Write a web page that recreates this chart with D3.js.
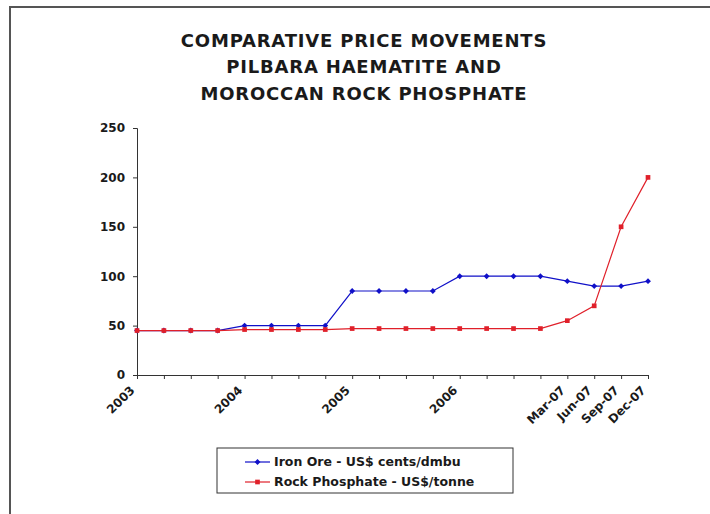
<!DOCTYPE html>
<head>
  <meta charset="utf-8">
  <title>Comparative price movements</title>
  <style>
      body { margin: 0; background: #fff; }
      text { font-family: "DejaVu Sans", Verdana, sans-serif; font-weight: bold; fill: #1a1a1a; }
  </style>
  <script src="https://d3js.org/d3.v7.js"></script>
</head>
<body>
<div id="chart"></div>
<script>
    // quarterly categories, only some carry a label
    const categories = ["2003", "", "", "", "2004", "", "", "", "2005", "", "", "",
        "2006", "", "", "", "Mar-07", "Jun-07", "Sep-07", "Dec-07"];
    const ironOre = [45, 45, 45, 45, 50, 50, 50, 50, 85, 85, 85, 85,
        100, 100, 100, 100, 95, 90, 90, 95];
    const rockPhosphate = [45, 45, 45, 45, 46, 46, 46, 46, 47, 47, 47, 47,
        47, 47, 47, 47, 55, 70, 150, 200];
    const yTicks = [0, 50, 100, 150, 200, 250];
    const titleLines = ["COMPARATIVE PRICE MOVEMENTS", "PILBARA HAEMATITE AND", "MOROCCAN ROCK PHOSPHATE"];
    const seriesNames = ["Iron Ore - US$ cents/dmbu", "Rock Phosphate - US$/tonne"];

    const W = 710, H = 514;
    const svg = d3.select("#chart").append("svg")
        .attr("width", W).attr("height", H);

    // frame (top and left edges only visible)
    svg.append("line").attr("x1", 9).attr("x2", W).attr("y1", 7).attr("y2", 7)
        .attr("stroke", "#555").attr("stroke-width", 2);
    svg.append("line").attr("x1", 10).attr("x2", 10).attr("y1", 6).attr("y2", H)
        .attr("stroke", "#555").attr("stroke-width", 2);

    // title
    svg.append("g").selectAll("text")
        .data(titleLines)
        .join("text")
        .attr("x", 364)
        .attr("y", (d, i) => 47 + i * 26.3)
        .attr("text-anchor", "middle")
        .style("font-size", "18px")
        .style("letter-spacing", "0.8px")
        .text(d => d);

    const plotL = 137, plotR = 648, plotT = 128, plotB = 375;

    const x = d3.scalePoint()
        .domain(d3.range(categories.length))
        .range([plotL, plotR]);

    const y = d3.scaleLinear()
        .domain([0, 250])
        .range([plotB, plotT]);

    // y axis
    const yAxis = svg.append("g")
        .attr("transform", `translate(${plotL},0)`)
        .call(d3.axisLeft(y).tickValues(yTicks).tickSize(4).tickPadding(8));
    yAxis.selectAll("text").style("font-size", "12px");
    yAxis.selectAll("path, line").attr("stroke", "#333");

    // x axis
    const xAxis = svg.append("g")
        .attr("transform", `translate(0,${plotB})`)
        .call(d3.axisBottom(x).tickSize(4).tickSizeOuter(0).tickFormat(i => categories[i]));
    xAxis.selectAll("path, line").attr("stroke", "#333");
    xAxis.selectAll("text")
        .style("font-size", "12px")
        .attr("text-anchor", "end")
        .attr("dy", "0.35em")
        .attr("transform", "translate(-5,13) rotate(-45)")
        .attr("x", 0).attr("y", 0);

    const series = [
        {name: seriesNames[0], values: ironOre, color: "#1010c8", symbol: d3.symbolDiamond2, size: 22},
        {name: seriesNames[1], values: rockPhosphate, color: "#e0202a", symbol: d3.symbolSquare, size: 22}
    ];

    const line = d3.line()
        .x((d, i) => x(i))
        .y(d => y(d));

    series.forEach(s => {
        svg.append("path")
            .datum(s.values)
            .attr("fill", "none")
            .attr("stroke", s.color)
            .attr("stroke-width", 1.2)
            .attr("d", line);
        svg.append("g").selectAll("path")
            .data(s.values)
            .join("path")
            .attr("transform", (d, i) => `translate(${x(i)},${y(d)})`)
            .attr("d", d3.symbol().type(s.symbol).size(s.size))
            .attr("fill", s.color);
    });

    // legend
    const legend = svg.append("g").attr("transform", "translate(217,448)");
    legend.append("rect")
        .attr("width", 296).attr("height", 45)
        .attr("fill", "#fff").attr("stroke", "#333").attr("stroke-width", 1);
    series.forEach((s, i) => {
        const g = legend.append("g").attr("transform", `translate(0,${14 + i * 20})`);
        g.append("line").attr("x1", 28).attr("x2", 53)
            .attr("stroke", s.color).attr("stroke-width", 1.2);
        g.append("path").attr("transform", "translate(40.5,0)")
            .attr("d", d3.symbol().type(s.symbol).size(s.size))
            .attr("fill", s.color);
        g.append("text").attr("x", 57).attr("dy", "0.35em")
            .style("font-size", "12.5px")
            .text(s.name);
    });
</script>
</body>
